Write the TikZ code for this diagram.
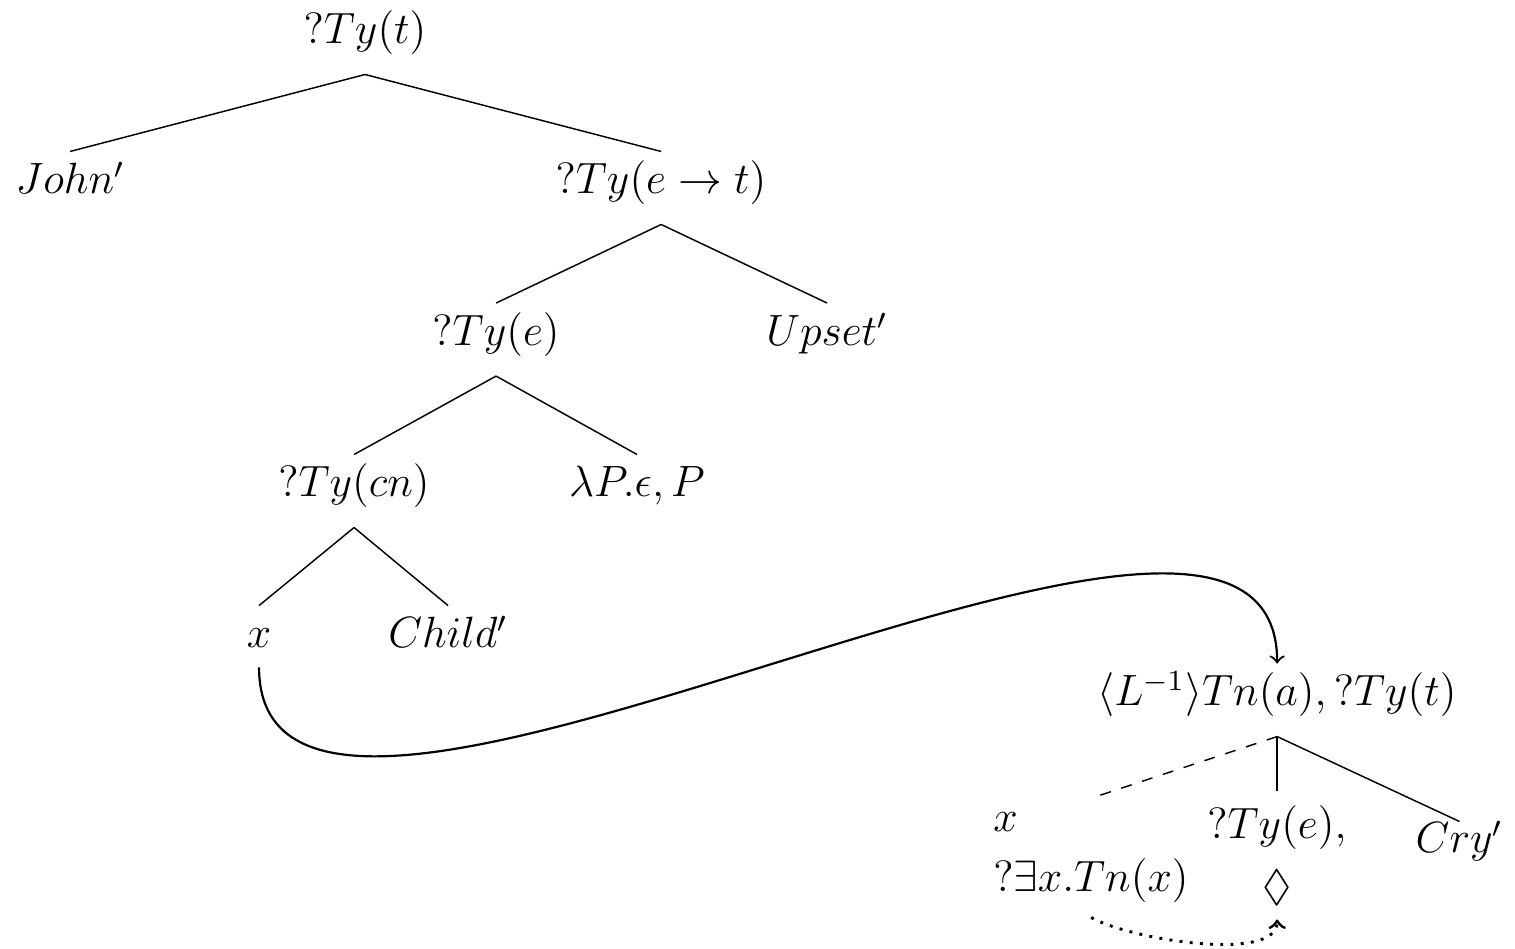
\documentclass[12pt,tikz,border=0pt]{standalone}
\usepackage{amssymb}
\usetikzlibrary{calc}

\tikzset{
  tn/.style={anchor=base,inner sep=3.8pt,text height=7.6pt,text depth=4.4pt},
  tnn/.style={anchor=base,inner sep=3.8pt,align=#1},
  tnn/.default=center
}

\begin{document}
\begin{tikzpicture}[scale=1.26]
  \useasboundingbox (0,0) rectangle (11.576,7.251);
  \node[tn] (root) at (2.789,6.915) {$?Ty(t)$};
  \node[tn] (john) at (0.535,5.769) {$John'$};
  \node[tn] (ete) at (5.051,5.769) {$?Ty(e\rightarrow t)$};
  \node[tn] (tye) at (3.790,4.611) {$?Ty(e)$};
  \node[tn] (upset) at (6.319,4.611) {$Upset'$};
  \node[tn] (tycn) at (2.705,3.454) {$?Ty(cn)$};
  \node[tn] (lam) at (4.867,3.454) {$\lambda P.\epsilon, P$};
  \node[tn,text depth=1.3pt] (x) at (1.979,2.300) {$x$};
  \node[tn] (child) at (3.423,2.300) {$Child'$};
  \node[tn] (link) at (9.757,1.857) {$\langle L^{-1}\rangle Tn(a), ?Ty(t)$};
  \node[tnn=left] (lc) at (8.336,0.436) {$x$\\[2pt]$?\exists x.Tn(x)$};
  \node[tnn] (mc) at (9.757,0.374) {$?Ty(e),$\\[2.4pt]$\Diamond$};
  \node[tn,text height=4.6pt] (cry) at (11.150,0.734) {$Cry'$};
  \draw (root.south)--(john.north);
  \draw (root.south)--(ete.north);
  \draw (ete.south)--(tye.north);
  \draw (ete.south)--(upset.north);
  \draw (tye.south)--(tycn.north);
  \draw (tye.south)--(lam.north);
  \draw (tycn.south)--(x.north);
  \draw (tycn.south)--(child.north);
  \draw[dashed] (link.south)--(lc.north);
  \draw (link.south)--(mc.north);
  \draw (link.south)--(cry.north);
  \draw[semithick,->] (x.south) .. controls +(0,-2.37) and +(0,2.37) .. (link.north);
  \draw[thick,dotted,->] (lc.south) to[out=-30,in=-90,looseness=0.6] (mc.south);
\end{tikzpicture}
\end{document}
